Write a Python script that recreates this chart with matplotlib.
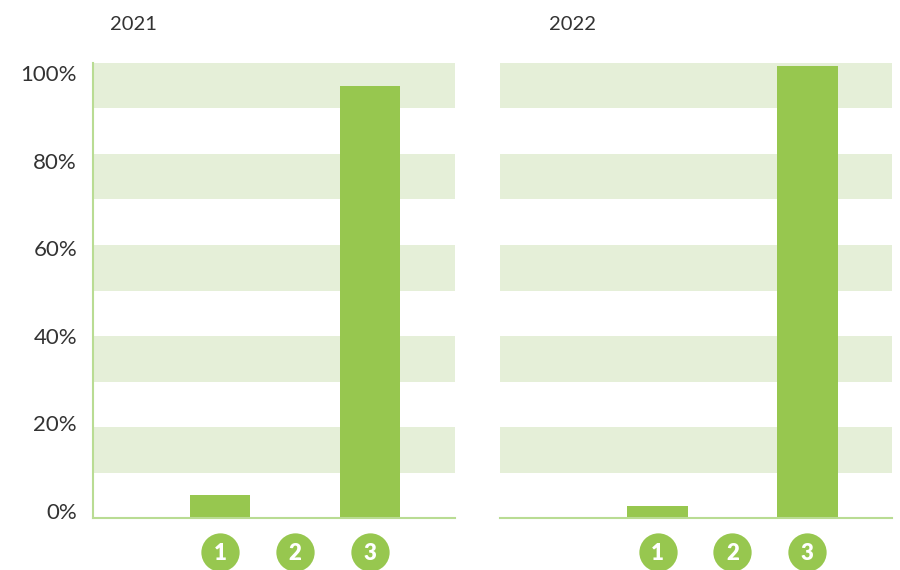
import matplotlib.pyplot as plt
from matplotlib.transforms import blended_transform_factory

plt.rcParams["font.family"] = ["Lato", "DejaVu Sans"]

# data
years = ["2021", "2022"]
categories = ["1", "2", "3"]
values_2021 = [5, 0, 95]
values_2022 = [2.6, 0, 99.4]
y_labels = ["0%", "20%", "40%", "60%", "80%", "100%"]
y_label_values = [0, 20, 40, 60, 80, 100]

bar_green = "#97C74F"
band_green = "#E5EFD8"
line_green = "#B9DC93"
text_grey = "#333333"

fig = plt.figure(figsize=(9, 5.7), dpi=100)
ax1 = fig.add_axes([93 / 900, 52 / 570, 362 / 900, 455 / 570])
ax2 = fig.add_axes([500 / 900, 52 / 570, 392 / 900, 455 / 570])

xpos = [1, 2, 3]
panels = [
    (ax1, values_2021, (-0.693, 4.133), years[0], 110),
    (ax2, values_2022, (-1.107, 4.133), years[1], 549),
]

for ax, vals, xlim, year, title_x in panels:
    # alternating horizontal bands
    for lo in range(10, 100, 20):
        ax.axhspan(lo, lo + 10, color=band_green, lw=0, zorder=0)
    ax.bar(xpos, vals, width=0.81, color=bar_green, zorder=2)
    ax.set_xlim(*xlim)
    ax.set_ylim(0, 100)
    ax.set_xticks([])
    for side in ["top", "right"]:
        ax.spines[side].set_visible(False)
    ax.spines["bottom"].set_color(line_green)
    ax.spines["bottom"].set_linewidth(1.5)

    # numbered circles under the bars
    trans = blended_transform_factory(ax.transData, ax.transAxes)
    for x, lab in zip(xpos, categories):
        ax.scatter(x, -0.075, s=760, color=bar_green, transform=trans,
                   clip_on=False, zorder=3, linewidths=0)
        ax.text(x, -0.078, lab, transform=trans, ha="center", va="center",
                color="white", fontsize=16, fontweight="heavy", zorder=4)

    fig.text(title_x / 900, 1 - 25 / 570, year, ha="left", va="center",
             fontsize=14.5, color=text_grey)

# left panel y axis: labels sit slightly inside the grid range
ax1.spines["left"].set_color(line_green)
ax1.spines["left"].set_linewidth(1.5)
tick_pos = [1.54 + v * 0.9626 for v in y_label_values]
ax1.set_yticks(tick_pos)
ax1.set_yticklabels(y_labels, fontsize=16, color=text_grey)
ax1.tick_params(axis="y", length=0, pad=11.5)

ax2.spines["left"].set_visible(False)
ax2.set_yticks([])

fig.savefig("out.png", dpi=100)
